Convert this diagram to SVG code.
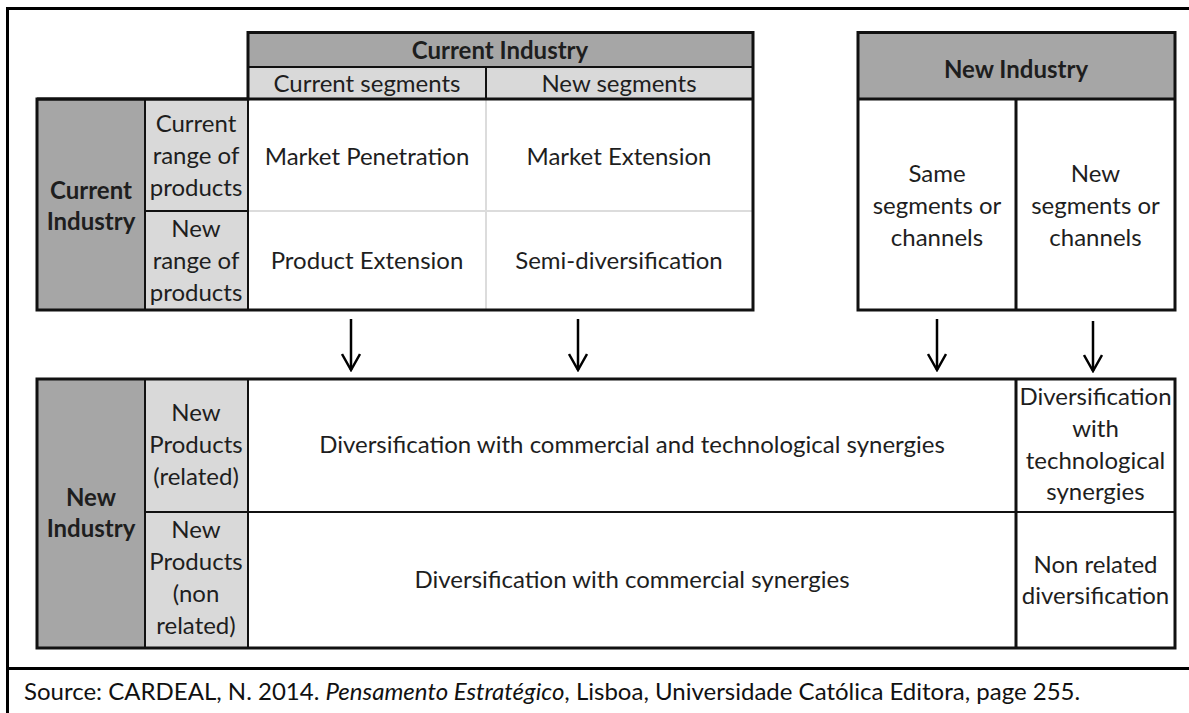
<svg xmlns="http://www.w3.org/2000/svg" width="1189" height="713" viewBox="0 0 1189 713">
  <style>
    text { font-family: Lato, "Open Sans", sans-serif; font-size: 24px; fill: #1e1e1e; text-anchor: middle; }
    .b { font-weight: bold; }
    .dark { fill: #a6a6a6; }
    .light { fill: #d9d9d9; }
    .white { fill: #ffffff; }
    .outer { fill: none; stroke: #111; stroke-width: 3; }
    .inner { fill: none; stroke: #111; stroke-width: 2; }
    .grid { stroke: #dcdcdc; stroke-width: 2; }
    .frame { stroke: #000; stroke-width: 3; fill: none; }
    .arrow { stroke: #000; stroke-width: 2.5; fill: none; }
    .src { text-anchor: start; font-size: 24px; fill: #111; }
  </style>
  <defs>
    <!-- open chevron head, drawn along +x so orient="auto" follows the line -->
    <marker id="chev" viewBox="0 0 20 20" refX="18" refY="10" markerWidth="20" markerHeight="20" markerUnits="userSpaceOnUse" orient="auto">
      <path d="M2,1 L18,10 L2,19" fill="none" stroke="#000" stroke-width="2.5"/>
    </marker>
  </defs>

  <rect x="0" y="0" width="1189" height="713" fill="#fff"/>

  <!-- page frame and source box -->
  <g id="frame">
    <path class="frame" d="M1189,8.5 H7.5 V713"/>
    <line class="frame" x1="7" y1="668.5" x2="1189" y2="668.5"/>
  </g>

  <!-- current industry matrix -->
  <g id="current-industry-matrix">
    <rect class="dark" x="248" y="32" width="505" height="35"/>
    <rect class="light" x="248" y="67" width="505" height="32"/>
    <rect class="dark" x="37" y="99" width="108" height="211"/>
    <rect class="light" x="145" y="99" width="103" height="211"/>
    <rect class="white" x="248" y="99" width="505" height="211"/>
    <line class="grid" x1="486" y1="100" x2="486" y2="309"/>
    <line class="grid" x1="249" y1="211" x2="752" y2="211"/>
    <line class="inner" x1="248" y1="67" x2="753" y2="67"/>
    <line class="inner" x1="486" y1="67" x2="486" y2="99"/>
    <line class="inner" x1="145" y1="99" x2="145" y2="310"/>
    <line class="inner" x1="248" y1="99" x2="248" y2="310"/>
    <line class="inner" x1="145" y1="211" x2="248" y2="211"/>
    <path class="outer" d="M248,32.5 H753 V310 H37 V99 H248 Z"/>
    <line class="outer" x1="37" y1="99" x2="753" y2="99"/>

    <text class="b" x="500" y="59">Current Industry</text>
    <text x="367" y="92">Current segments</text>
    <text x="619" y="92">New segments</text>
    <text class="b" x="91" y="199">Current</text>
    <text class="b" x="91" y="230">Industry</text>
    <text x="196" y="132">Current</text>
    <text x="196" y="164">range of</text>
    <text x="196" y="196">products</text>
    <text x="196" y="237">New</text>
    <text x="196" y="269">range of</text>
    <text x="196" y="301">products</text>
    <text x="367" y="165">Market Penetration</text>
    <text x="619" y="165">Market Extension</text>
    <text x="367" y="269">Product Extension</text>
    <text x="619" y="269">Semi-diversification</text>
  </g>

  <!-- new industry box -->
  <g id="new-industry-box">
    <rect class="dark" x="858" y="32" width="317" height="67"/>
    <rect class="white" x="858" y="99" width="317" height="211"/>
    <line class="outer" x1="858" y1="99" x2="1175" y2="99"/>
    <line class="outer" x1="1016" y1="99" x2="1016" y2="310"/>
    <rect class="outer" x="858" y="32.5" width="317" height="277.5"/>
    <text class="b" x="1016" y="78">New Industry</text>
    <text x="937" y="182">Same</text>
    <text x="937" y="214">segments or</text>
    <text x="937" y="246">channels</text>
    <text x="1095.5" y="182">New</text>
    <text x="1095.5" y="214">segments or</text>
    <text x="1095.5" y="246">channels</text>
  </g>

  <!-- connectors -->
  <g id="connectors">
    <line class="arrow" x1="351" y1="319" x2="351" y2="370" marker-end="url(#chev)"/>
    <line class="arrow" x1="578" y1="319" x2="578" y2="370" marker-end="url(#chev)"/>
    <line class="arrow" x1="937" y1="319" x2="937" y2="370" marker-end="url(#chev)"/>
    <line class="arrow" x1="1093" y1="321" x2="1093" y2="371" marker-end="url(#chev)"/>
  </g>

  <!-- new industry matrix -->
  <g id="new-industry-matrix">
    <rect class="dark" x="37" y="379" width="108" height="269"/>
    <rect class="light" x="145" y="379" width="103" height="269"/>
    <rect class="white" x="248" y="379" width="927" height="269"/>
    <line class="inner" x1="145" y1="379" x2="145" y2="648"/>
    <line class="inner" x1="248" y1="379" x2="248" y2="648"/>
    <line class="inner" x1="145" y1="512" x2="1175" y2="512"/>
    <line class="outer" x1="1016" y1="379" x2="1016" y2="648"/>
    <rect class="outer" x="37" y="379" width="1138" height="269"/>

    <text class="b" x="91" y="506">New</text>
    <text class="b" x="91" y="537">Industry</text>
    <text x="196" y="421">New</text>
    <text x="196" y="453">Products</text>
    <text x="196" y="485">(related)</text>
    <text x="196" y="538">New</text>
    <text x="196" y="570">Products</text>
    <text x="196" y="602">(non</text>
    <text x="196" y="634">related)</text>
    <text x="632" y="453">Diversification with commercial and technological synergies</text>
    <text x="632" y="588">Diversification with commercial synergies</text>
    <text x="1095.5" y="405">Diversification</text>
    <text x="1095.5" y="437">with</text>
    <text x="1095.5" y="469">technological</text>
    <text x="1095.5" y="500">synergies</text>
    <text x="1095.5" y="573">Non related</text>
    <text x="1095.5" y="604">diversification</text>
  </g>

  <!-- source line -->
  <text class="src" x="24" y="700">Source: CARDEAL, N. 2014. <tspan font-style="italic">Pensamento Estratégico</tspan>, Lisboa, Universidade Católica Editora, page 255.</text>
</svg>
